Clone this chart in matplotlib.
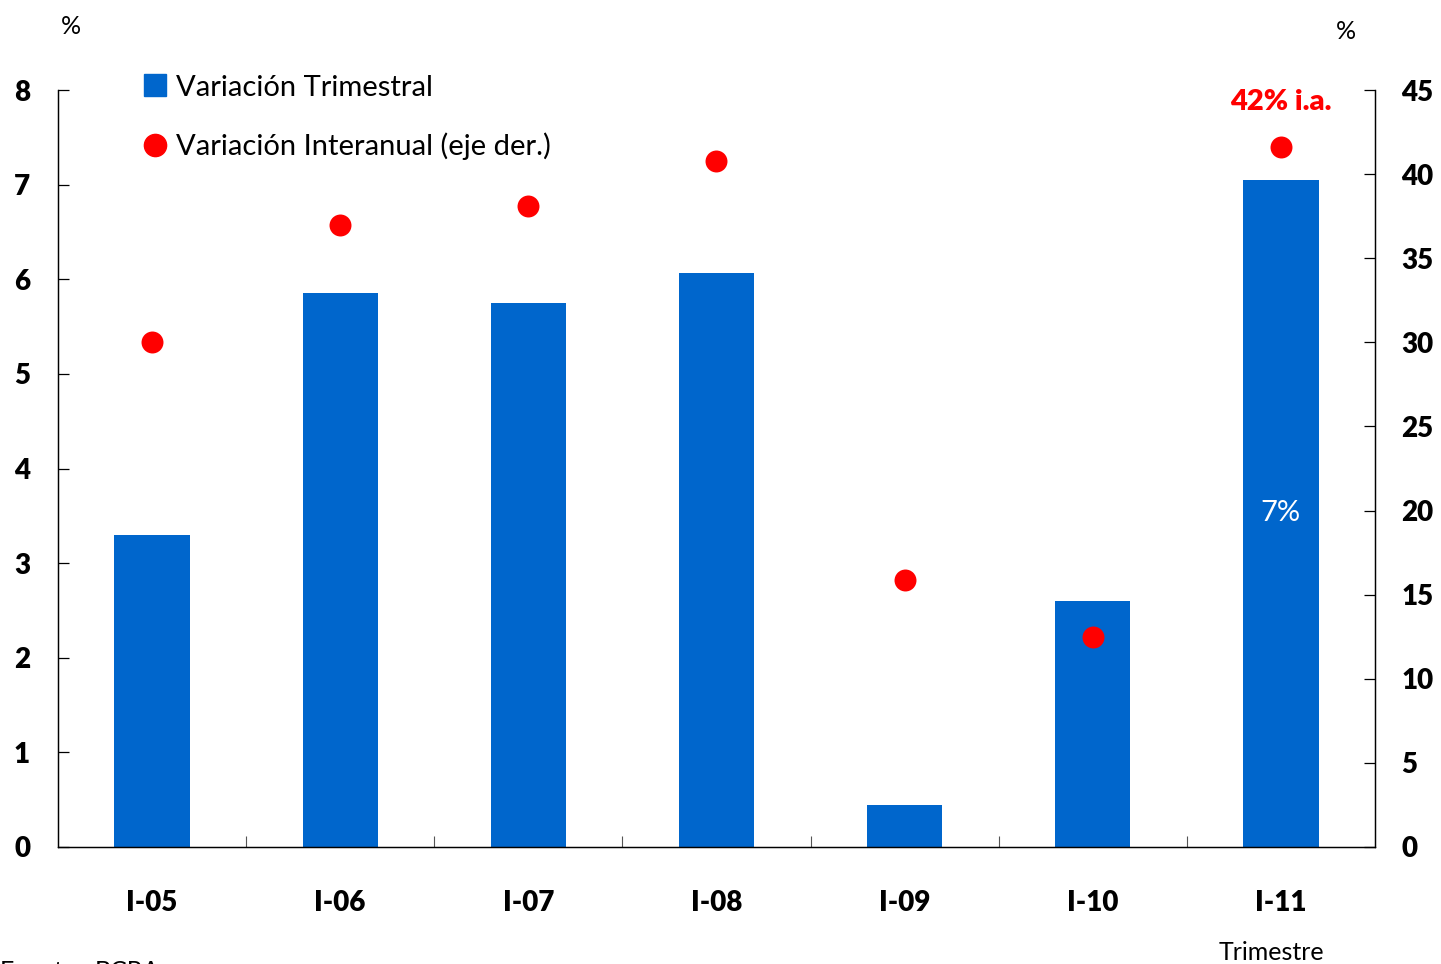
import matplotlib.pyplot as plt
from matplotlib.lines import Line2D
from matplotlib.ticker import FixedLocator, MultipleLocator

plt.rcParams["font.family"] = ["Lato", "DejaVu Sans"]

QUARTERS = ["I-05", "I-06", "I-07", "I-08", "I-09", "I-10", "I-11"]
QUARTERLY = [3.30, 5.86, 5.75, 6.07, 0.44, 2.60, 7.05]
YEAR_ON_YEAR = [30.0, 37.0, 38.1, 40.8, 15.9, 12.5, 41.6]

BLUE = "#0066CC"
RED = "#FF0000"

fig = plt.figure(figsize=(14.41, 9.64), dpi=100)
ax = fig.add_axes([0.0402, 0.1214, 0.9140, 0.7852])
ax2 = ax.twinx()

x = list(range(len(QUARTERS)))
ax.bar(x, QUARTERLY, width=0.40, color=BLUE, zorder=2)
ax2.scatter(x, YEAR_ON_YEAR, s=250, color=RED, zorder=3, linewidths=0)

ax.set_xlim(-0.5, len(QUARTERS) - 0.5)
ax.set_ylim(0, 8)
ax2.set_ylim(0, 45)

# category labels on the centers, short ticks between groups
ax.set_xticks(x)
ax.set_xticklabels(QUARTERS, fontsize=20, fontweight="heavy")
ax.xaxis.set_minor_locator(FixedLocator([i + 0.5 for i in x[:-1]]))
ax.tick_params(axis="x", which="major", length=0, pad=31)
ax.tick_params(axis="x", which="minor", direction="in", length=8, width=0.8, color="#555555")

ax.yaxis.set_major_locator(MultipleLocator(1))
ax2.yaxis.set_major_locator(MultipleLocator(5))
ax.tick_params(axis="y", direction="in", length=8, width=0.9, pad=20, labelsize=20)
ax2.tick_params(axis="y", direction="in", length=8, width=0.9, pad=19, labelsize=20)
for lab in ax.get_yticklabels() + ax2.get_yticklabels():
    lab.set_fontweight("heavy")

for a in (ax, ax2):
    a.spines["top"].set_visible(False)
    for side in ("left", "right", "bottom"):
        a.spines[side].set_linewidth(0.9)

handles = [
    Line2D([], [], marker="s", linestyle="none", color=BLUE, markersize=16),
    Line2D([], [], marker="o", linestyle="none", color=RED, markersize=16),
]
ax2.legend(
    handles,
    ["Variación Trimestral", "Variación Interanual (eje der.)"],
    loc="upper left",
    bbox_to_anchor=(0.045, 1.055),
    frameon=False,
    fontsize=21,
    handlelength=0.8,
    handletextpad=0.3,
    labelspacing=1.1,
)

last = len(QUARTERS) - 1
ax.text(last, QUARTERLY[last] * 0.50, f"{QUARTERLY[last]:.0f}%", color="white",
        fontsize=21, ha="center", va="center")
ax2.text(last, YEAR_ON_YEAR[last] + 2.7, f"{YEAR_ON_YEAR[last]:.0f}% i.a.", color=RED,
         fontsize=21, fontweight="heavy", ha="center", va="center")

fig.text(0.049, 0.972, "%", fontsize=18, ha="center", va="center")
fig.text(0.934, 0.967, "%", fontsize=18, ha="center", va="center")
fig.text(0.882, 0.012, "Trimestre", fontsize=18, ha="center", va="center")
fig.text(0.0, -0.008, "Fuente:", fontsize=18, ha="left", va="center")
fig.text(0.066, -0.008, "BCRA", fontsize=18, ha="left", va="center")

fig.savefig("out.png", dpi=100)
